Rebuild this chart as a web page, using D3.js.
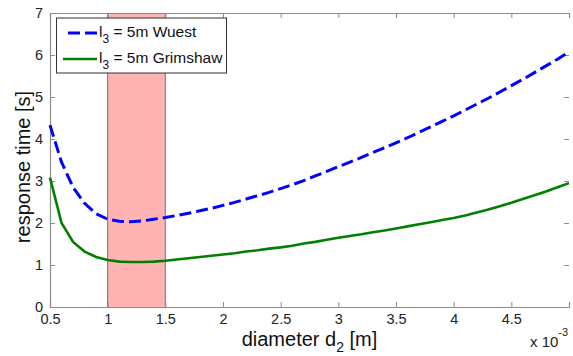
<!DOCTYPE html>
<html>
<head>
<meta charset="utf-8">
<script src="https://cdn.jsdelivr.net/npm/d3@7"></script>
<style>
  body { margin: 0; background: #fff; }
  svg { display: block; font-family: "Liberation Sans", Arial, sans-serif; }
</style>
</head>
<body>
<svg id="chart" width="573" height="356"></svg>
<script>
// diameter d2 (x 10^-3 m)
const diameters = [0.5, 0.6, 0.7, 0.8, 0.9, 1.0, 1.1, 1.2, 1.3, 1.4, 1.5, 1.6, 1.7, 1.8, 1.9,
  2.0, 2.1, 2.2, 2.3, 2.4, 2.5, 2.6, 2.7, 2.8, 2.9, 3.0, 3.1, 3.2, 3.3, 3.4, 3.5,
  3.6, 3.7, 3.8, 3.9, 4.0, 4.1, 4.2, 4.3, 4.4, 4.5, 4.6, 4.7, 4.8, 4.9, 5.0];
const wuest = [4.33, 3.45, 2.85, 2.47, 2.22, 2.09, 2.04, 2.03, 2.05, 2.09, 2.13, 2.18, 2.23, 2.29, 2.35,
  2.42, 2.49, 2.57, 2.65, 2.73, 2.82, 2.91, 3.01, 3.12, 3.23, 3.34, 3.45, 3.56, 3.68, 3.79, 3.91,
  4.03, 4.16, 4.29, 4.42, 4.55, 4.69, 4.83, 4.97, 5.12, 5.27, 5.42, 5.58, 5.74, 5.90, 6.07];
const grimshaw = [3.08, 2.00, 1.55, 1.32, 1.19, 1.12, 1.08, 1.07, 1.07, 1.08, 1.10, 1.13, 1.16, 1.19, 1.22,
  1.25, 1.28, 1.32, 1.35, 1.39, 1.42, 1.46, 1.51, 1.55, 1.60, 1.65, 1.69, 1.73, 1.78, 1.82, 1.87,
  1.92, 1.97, 2.02, 2.07, 2.12, 2.18, 2.25, 2.32, 2.40, 2.48, 2.57, 2.66, 2.75, 2.85, 2.95];
const band = [1.0, 1.5];
const xTicks = [0.5, 1, 1.5, 2, 2.5, 3, 3.5, 4, 4.5];
const yTicks = [0, 1, 2, 3, 4, 5, 6, 7];

const svg = d3.select('#chart');
const m = { left: 50, right: 569, top: 13, bottom: 307 };
const x = d3.scaleLinear().domain([0.5, 5.0]).range([m.left, m.right]);
const y = d3.scaleLinear().domain([0, 7]).range([m.bottom, m.top]);
const axisColor = '#8c8c8c';

// shaded region
svg.append('rect')
  .attr('x', x(band[0])).attr('y', m.top)
  .attr('width', x(band[1]) - x(band[0])).attr('height', m.bottom - m.top)
  .attr('fill', '#ffb3b3');
band.forEach(b => {
  svg.append('line').attr('x1', x(b)).attr('x2', x(b)).attr('y1', m.top).attr('y2', m.bottom)
    .attr('stroke', '#555').attr('stroke-opacity', 0.8).attr('stroke-width', 1);
});

// axes (box with inward ticks)
const fmt = d => String(d);
svg.append('g').attr('transform', `translate(0,${m.bottom})`)
  .call(d3.axisBottom(x).tickValues(xTicks).tickSize(-5).tickPadding(7).tickFormat(fmt))
  .call(g => g.selectAll('text').attr('font-size', 14.5).attr('fill', '#222'));
svg.append('g').attr('transform', `translate(0,${m.top})`)
  .call(d3.axisTop(x).tickValues(xTicks).tickSize(-5).tickFormat(''));
svg.append('g').attr('transform', `translate(${m.left},0)`)
  .call(d3.axisLeft(y).tickValues(yTicks).tickSize(-5).tickPadding(7).tickFormat(fmt))
  .call(g => g.selectAll('text').attr('font-size', 14.5).attr('fill', '#222'));
svg.append('g').attr('transform', `translate(${m.right},0)`)
  .call(d3.axisRight(y).tickValues(yTicks).tickSize(-5).tickFormat(''))
  .call(g => g.select('.domain').remove());
svg.selectAll('.domain').attr('stroke', axisColor).attr('stroke-width', 1.2);
svg.selectAll('.tick line').attr('stroke', axisColor);

// series
const line = vals => d3.line().x((d, i) => x(diameters[i])).y(d => y(d))(vals);
svg.append('path').attr('d', line(grimshaw))
  .attr('fill', 'none').attr('stroke', '#008000').attr('stroke-width', 2.6);
svg.append('path').attr('d', line(wuest))
  .attr('fill', 'none').attr('stroke', '#0000ff').attr('stroke-width', 3)
  .attr('stroke-dasharray', '12,5');

// legend
const lg = svg.append('g');
lg.append('rect').attr('x', 56.5).attr('y', 18).attr('width', 170).attr('height', 55)
  .attr('fill', '#fff').attr('stroke', '#333').attr('stroke-width', 1);
const legendItems = [
  { name: 'Wuest', color: '#0000ff', dash: '12,5', y: 33, x1: 68 },
  { name: 'Grimshaw', color: '#008000', dash: null, y: 59, x1: 63 }
];
legendItems.forEach(it => {
  lg.append('line').attr('x1', it.x1).attr('x2', 97).attr('y1', it.y).attr('y2', it.y)
    .attr('stroke', it.color).attr('stroke-width', it.dash ? 3 : 2.6)
    .attr('stroke-dasharray', it.dash);
  const t = lg.append('text').attr('x', 99).attr('y', it.y + 4).attr('font-size', 15.5).attr('fill', '#111');
  t.append('tspan').text('l');
  t.append('tspan').attr('font-size', 12).attr('dy', 6).text('3');
  t.append('tspan').attr('dy', -6).text(` = 5m ${it.name}`);
});

// axis labels
const xl = svg.append('text').attr('x', 309.5).attr('y', 346).attr('text-anchor', 'middle')
  .attr('font-size', 20).attr('fill', '#111');
xl.append('tspan').text('diameter d');
xl.append('tspan').attr('font-size', 14).attr('dy', 6).text('2');
xl.append('tspan').attr('dy', -6).text(' [m]');

svg.append('text').attr('transform', 'translate(30,167) rotate(-90)').attr('text-anchor', 'middle')
  .attr('font-size', 20).attr('fill', '#111').text('response time [s]');

const ex = svg.append('text').attr('x', 530).attr('y', 347).attr('font-size', 15).attr('fill', '#222');
ex.append('tspan').text('x 10');
ex.append('tspan').attr('font-size', 11).attr('dy', -11).text('-3');
</script>
</body>
</html>
